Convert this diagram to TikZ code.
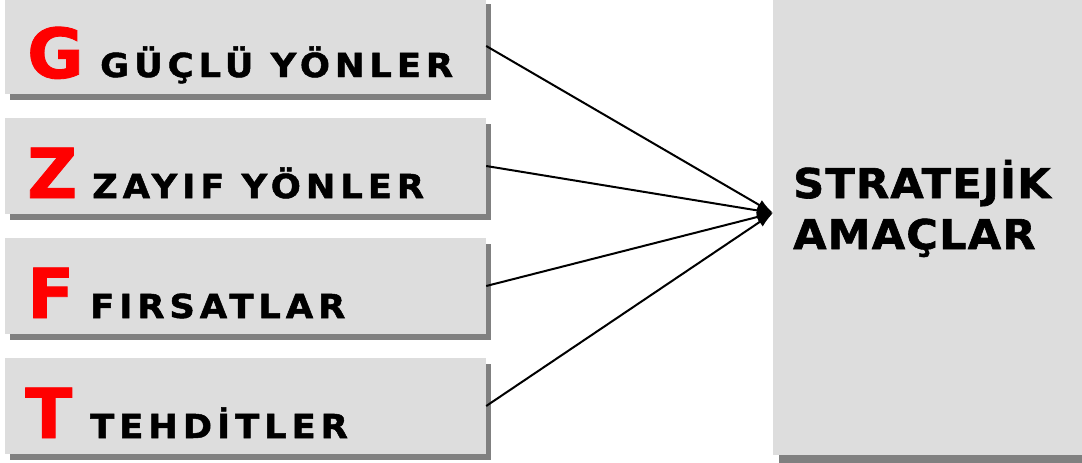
\documentclass[tikz,border=0pt]{standalone}
\usepackage{fontspec}
\setmainfont{DejaVu Sans}
\usetikzlibrary{arrows.meta,shadows}
\definecolor{boxgray}{HTML}{DDDDDD}
\definecolor{shadowgray}{HTML}{808080}
\definecolor{lred}{HTML}{FF0000}
\begin{document}
\begin{tikzpicture}[x=1pt,y=-1pt,
  swotbox/.style={rectangle, fill=boxgray, inner sep=0pt, minimum width=481pt, minimum height=96pt,
    drop shadow={shadow xshift=5pt, shadow yshift=-6pt, fill=shadowgray, opacity=1}},
  bigletter/.style={anchor=base west, inner sep=0pt, text=lred, font=\fontsize{69}{69}\selectfont\bfseries\addfontfeature{FakeBold=1.2}},
  label/.style={anchor=base west, inner sep=0pt, font=\fontsize{33}{33}\selectfont\bfseries\addfontfeature{LetterSpace=15,FakeStretch=1.07,FakeBold=1.5}},
  conn/.style={line width=2pt, -{Latex[length=16pt,width=11pt]}}
]
\useasboundingbox (0,0) rectangle (1082,463);
\clip (0,0) rectangle (1082,463);
\node[swotbox] (g) at (245.5,46) {};
\node[swotbox] (z) at (245.5,166) {};
\node[swotbox] (f) at (245.5,286) {};
\node[swotbox] (t) at (245.5,406) {};
\node[rectangle, fill=boxgray, inner sep=0pt, minimum width=340pt, minimum height=475pt,
  drop shadow={shadow xshift=6pt, shadow yshift=-8pt, fill=shadowgray, opacity=1}] (s) at (943,217.5) {};
\node[bigletter] (gl) at (27,78) {G};
\node[label] (gt) at (100,77) {GÜÇLÜ YÖNLER};
\node[bigletter] (zl) at (27,198) {Z};
\node[label] (zt) at (92,198) {ZAYIF YÖNLER};
\node[bigletter] (fl) at (27,318) {F};
\node[label] (ft) at (90,318) {FIRSATLAR};
\node[bigletter] (tl) at (25,438) {T};
\node[label] (tt) at (90,438) {TEHDİTLER};
\node[anchor=base west, inner sep=0pt, align=left, font=\fontsize{41}{51}\selectfont\bfseries\addfontfeature{LetterSpace=3,FakeStretch=1.05,FakeBold=1.5}] (st) at (793,249) {STRATEJİK\\AMAÇLAR};
\coordinate (tip) at (773,213);
\draw[conn] (g.east) -- (tip);
\draw[conn] (z.east) -- (tip);
\draw[conn] (f.east) -- (tip);
\draw[conn] (t.east) -- (tip);
\end{tikzpicture}
\end{document}
